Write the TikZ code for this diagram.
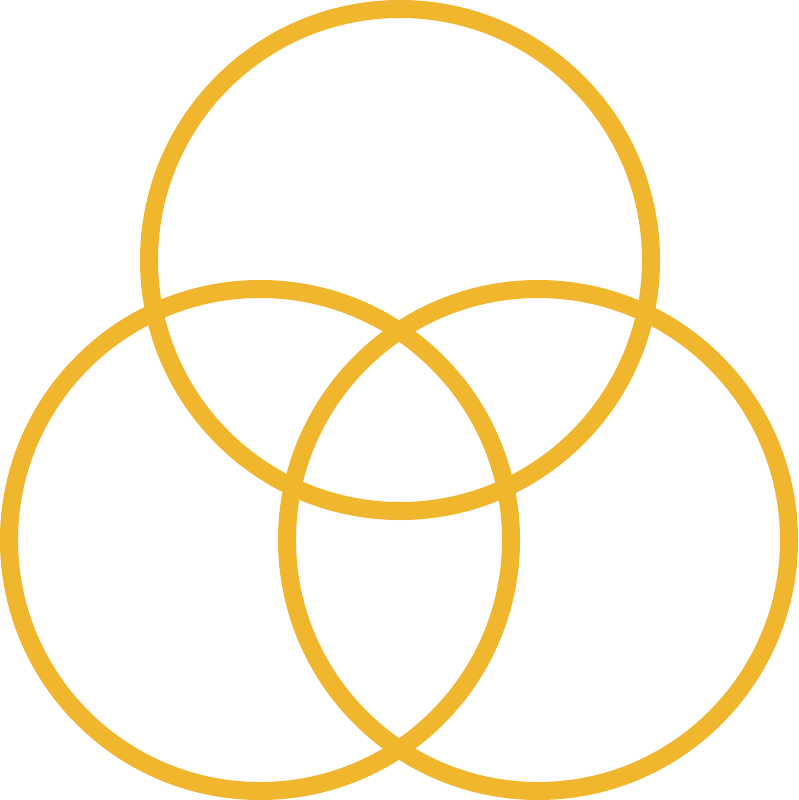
\documentclass[tikz,border=0pt]{standalone}
\usepackage{tikz}
\usetikzlibrary{positioning}
\definecolor{ringgold}{RGB}{240,182,46}
\begin{document}
\begin{tikzpicture}[x=1pt,y=-1pt,
                    ring/.style={circle,draw=ringgold,line width=18pt,
                    minimum size=502pt,inner sep=0pt}]
                \useasboundingbox[fill=white] (0,0) rectangle (798,800);
                \node [ring] (top)   at (400,260) {};
                \node [ring] (left)  at (260,540) {};
                \node [ring] (right) at (538,540) {};
            \end{tikzpicture}
\end{document}
